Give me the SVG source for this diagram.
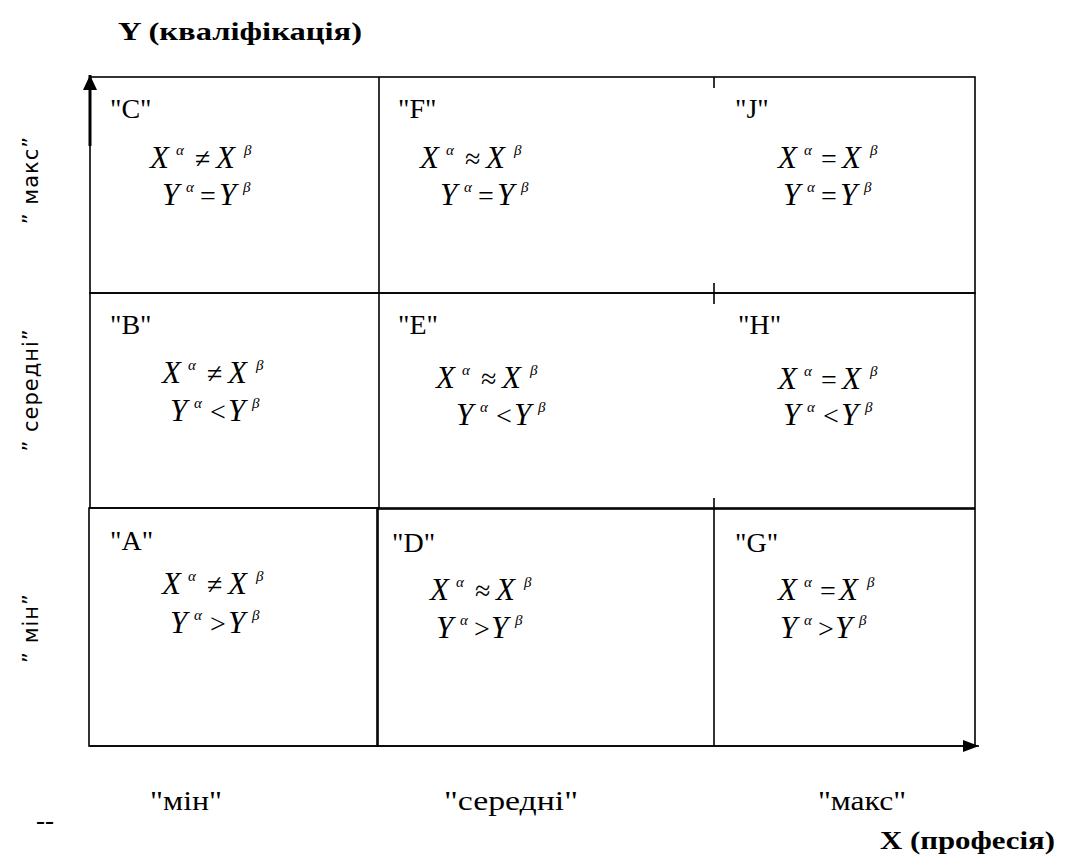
<svg xmlns="http://www.w3.org/2000/svg" width="1070" height="859" viewBox="0 0 1070 859">
<defs>
<style>
.b{fill:none;stroke:#000;stroke-width:1.6}
.lab{font-family:"Liberation Serif","Times New Roman",Tinos,serif;font-size:28px;fill:#000}
.m{font-family:"Liberation Serif","Times New Roman",Tinos,serif;font-style:italic;font-size:31px;fill:#000}
.op{font-family:"Liberation Serif","Times New Roman",Tinos,serif;font-style:normal;font-size:28px;fill:#000}
.s{font-family:"Liberation Serif","Times New Roman",Tinos,serif;font-style:italic;font-size:15px;fill:#000}
.ax{font-family:"Liberation Serif","Times New Roman",Tinos,serif;font-size:27px;fill:#000}
.vx{font-family:"DejaVu Sans","Liberation Sans",sans-serif;font-size:21px;letter-spacing:1px;fill:#000}
.ti{font-family:"Liberation Serif","Times New Roman",Tinos,serif;font-weight:bold;font-size:26px;fill:#000}
</style>
<marker id="ahx" viewBox="0 0 16 12" refX="16" refY="6" markerWidth="16" markerHeight="12" markerUnits="userSpaceOnUse" orient="auto"><path d="M0,0 L16,6 L0,12 z" fill="#000"/></marker>
<marker id="ahy" viewBox="0 0 15 14" refX="15" refY="7" markerWidth="15" markerHeight="14" markerUnits="userSpaceOnUse" orient="auto"><path d="M0,0 L15,7 L0,14 z" fill="#000"/></marker>
</defs>
<rect width="1070" height="859" fill="#fff"/>
<text class="ti" x="118" y="40" textLength="244" lengthAdjust="spacingAndGlyphs">Y (кваліфікація)</text>
<text class="ti" x="880" y="849" textLength="175" lengthAdjust="spacingAndGlyphs">X (професія)</text>

<g id="connectors">
<line x1="90" y1="146" x2="90" y2="75" stroke="#000" stroke-width="3" marker-end="url(#ahy)"/>
<line x1="90" y1="746" x2="979" y2="746" stroke="#000" stroke-width="1.6" marker-end="url(#ahx)"/>
</g>

<g id="grid">
<rect class="b" x="90" y="77" width="885" height="216"/>
<line class="b" x1="379" y1="77" x2="379" y2="293"/>
<line class="b" x1="714" y1="77" x2="714" y2="88"/>
<line class="b" x1="714" y1="283" x2="714" y2="293"/>
<rect class="b" x="90" y="293" width="885" height="215"/>
<line class="b" x1="379" y1="293" x2="379" y2="508"/>
<line class="b" x1="714" y1="293" x2="714" y2="304"/>
<line class="b" x1="714" y1="498" x2="714" y2="508"/>
<rect class="b" x="89" y="508" width="289" height="238"/>
<rect class="b" x="377" y="509" width="598" height="237"/>
<line class="b" x1="714" y1="509" x2="714" y2="746"/>
</g>

<g id="C">
<text class="lab" x="110" y="118">"C"</text>
<text class="m" x="150" y="168">X</text><text class="s" x="176" y="155">α</text><text class="op" x="195" y="168">≠</text><text class="m" x="216" y="168">X</text><text class="s" x="244" y="155">β</text>
<text class="m" x="162" y="205">Y</text><text class="s" x="186" y="192">α</text><text class="op" x="200" y="205">=</text><text class="m" x="219" y="205">Y</text><text class="s" x="243" y="192">β</text>
</g>
<g id="F">
<text class="lab" x="398" y="118">"F"</text>
<text class="m" x="420" y="168">X</text><text class="s" x="446" y="155">α</text><text class="op" x="465" y="168">≈</text><text class="m" x="486" y="168">X</text><text class="s" x="514" y="155">β</text>
<text class="m" x="440" y="205">Y</text><text class="s" x="464" y="192">α</text><text class="op" x="478" y="205">=</text><text class="m" x="497" y="205">Y</text><text class="s" x="521" y="192">β</text>
</g>
<g id="J">
<text class="lab" x="735" y="118">"J"</text>
<text class="m" x="778" y="168">X</text><text class="s" x="804" y="155">α</text><text class="op" x="821" y="168">=</text><text class="m" x="842" y="168">X</text><text class="s" x="870" y="155">β</text>
<text class="m" x="783" y="205">Y</text><text class="s" x="807" y="192">α</text><text class="op" x="821" y="205">=</text><text class="m" x="840" y="205">Y</text><text class="s" x="864" y="192">β</text>
</g>
<g id="B">
<text class="lab" x="110" y="334">"B"</text>
<text class="m" x="162" y="383">X</text><text class="s" x="188" y="370">α</text><text class="op" x="207" y="383">≠</text><text class="m" x="228" y="383">X</text><text class="s" x="256" y="370">β</text>
<text class="m" x="170" y="421">Y</text><text class="s" x="194" y="408">α</text><text class="op" x="210" y="421">&lt;</text><text class="m" x="228" y="421">Y</text><text class="s" x="252" y="408">β</text>
</g>
<g id="E">
<text class="lab" x="398" y="334">"E"</text>
<text class="m" x="436" y="388">X</text><text class="s" x="462" y="375">α</text><text class="op" x="481" y="388">≈</text><text class="m" x="502" y="388">X</text><text class="s" x="530" y="375">β</text>
<text class="m" x="456" y="425">Y</text><text class="s" x="480" y="412">α</text><text class="op" x="496" y="425">&lt;</text><text class="m" x="514" y="425">Y</text><text class="s" x="538" y="412">β</text>
</g>
<g id="H">
<text class="lab" x="738" y="334">"H"</text>
<text class="m" x="778" y="389">X</text><text class="s" x="804" y="376">α</text><text class="op" x="821" y="389">=</text><text class="m" x="842" y="389">X</text><text class="s" x="870" y="376">β</text>
<text class="m" x="783" y="425">Y</text><text class="s" x="807" y="412">α</text><text class="op" x="823" y="425">&lt;</text><text class="m" x="841" y="425">Y</text><text class="s" x="865" y="412">β</text>
</g>
<g id="A">
<text class="lab" x="110" y="550">"A"</text>
<text class="m" x="162" y="594">X</text><text class="s" x="188" y="581">α</text><text class="op" x="207" y="594">≠</text><text class="m" x="228" y="594">X</text><text class="s" x="256" y="581">β</text>
<text class="m" x="170" y="633">Y</text><text class="s" x="194" y="620">α</text><text class="op" x="210" y="633">&gt;</text><text class="m" x="228" y="633">Y</text><text class="s" x="252" y="620">β</text>
</g>
<g id="D">
<text class="lab" x="392" y="552">"D"</text>
<text class="m" x="430" y="600">X</text><text class="s" x="456" y="587">α</text><text class="op" x="475" y="600">≈</text><text class="m" x="496" y="600">X</text><text class="s" x="524" y="587">β</text>
<text class="m" x="436" y="638">Y</text><text class="s" x="460" y="625">α</text><text class="op" x="474" y="638">&gt;</text><text class="m" x="491" y="638">Y</text><text class="s" x="515" y="625">β</text>
</g>
<g id="G">
<text class="lab" x="735" y="552">"G"</text>
<text class="m" x="778" y="600">X</text><text class="s" x="804" y="587">α</text><text class="op" x="820" y="600">=</text><text class="m" x="839" y="600">X</text><text class="s" x="867" y="587">β</text>
<text class="m" x="780" y="638">Y</text><text class="s" x="804" y="625">α</text><text class="op" x="818" y="638">&gt;</text><text class="m" x="835" y="638">Y</text><text class="s" x="859" y="625">β</text>
</g>

<g id="axis-labels">
<text class="ax" x="150" y="810" textLength="72" lengthAdjust="spacingAndGlyphs">"мін"</text>
<text class="ax" x="444" y="810" textLength="134" lengthAdjust="spacingAndGlyphs">"середні"</text>
<text class="ax" x="818" y="810" textLength="88" lengthAdjust="spacingAndGlyphs">"макс"</text>
<text class="ax" x="36" y="829">--</text>
<text class="vx" transform="translate(38,180) rotate(-90)" text-anchor="middle">” макс”</text>
<text class="vx" transform="translate(38,390) rotate(-90)" text-anchor="middle">” середні”</text>
<text class="vx" transform="translate(38,628) rotate(-90)" text-anchor="middle">” мін”</text>
</g>
</svg>
